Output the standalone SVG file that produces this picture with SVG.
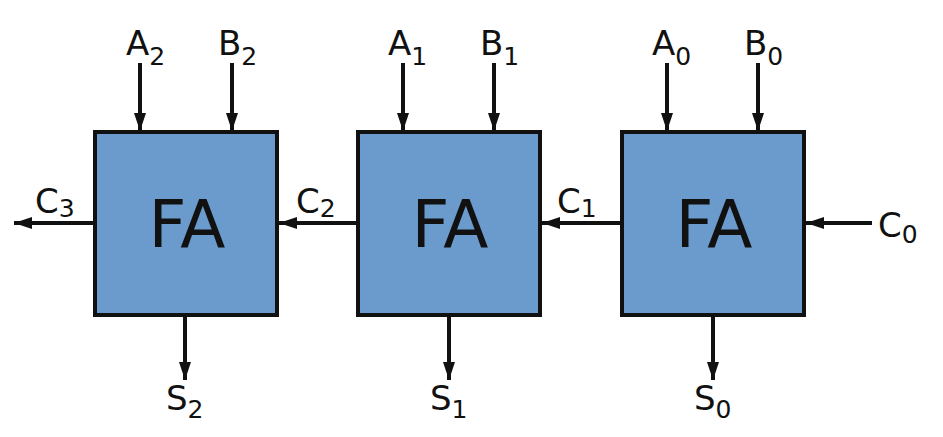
<svg xmlns="http://www.w3.org/2000/svg" width="943" height="437" viewBox="0 0 943 437">
<defs>
<style>
.box{fill:#6b9bcc;stroke:#111;stroke-width:4}
.fa{font-family:"DejaVu Sans",sans-serif;font-size:66px;fill:#111;text-anchor:middle}
.lbl{font-family:"DejaVu Sans",sans-serif;font-size:34px;fill:#111}
.sub{font-size:25px}
.wire{stroke:#111;stroke-width:4;fill:none;marker-end:url(#ah)}
</style>
<marker id="ah" markerUnits="userSpaceOnUse" markerWidth="20" markerHeight="14" refX="18" refY="7" orient="auto">
<path d="M0,1 L18,7 L0,13 Z" fill="#111"/>
</marker>
</defs>
<rect width="943" height="437" fill="#fff"/>
<g id="connectors">
<line class="wire" x1="140" y1="63" x2="140" y2="131"/>
<line class="wire" x1="232" y1="63" x2="232" y2="131"/>
<line class="wire" x1="403" y1="63" x2="403" y2="131"/>
<line class="wire" x1="494" y1="63" x2="494" y2="131"/>
<line class="wire" x1="667" y1="63" x2="667" y2="131"/>
<line class="wire" x1="758" y1="63" x2="758" y2="131"/>
<line class="wire" x1="872" y1="223" x2="806" y2="223"/>
<line class="wire" x1="620" y1="223" x2="542" y2="223"/>
<line class="wire" x1="357" y1="223" x2="279" y2="223"/>
<line class="wire" x1="94" y1="223" x2="14" y2="223"/>
<line class="wire" x1="185" y1="316" x2="185" y2="380"/>
<line class="wire" x1="449" y1="316" x2="449" y2="380"/>
<line class="wire" x1="713" y1="316" x2="713" y2="380"/>
</g>
<g id="fa2">
<rect class="box" x="95" y="132" width="182" height="183"/>
<text class="fa" x="187" y="247">FA</text>
</g>
<g id="fa1">
<rect class="box" x="358" y="132" width="182" height="183"/>
<text class="fa" x="450" y="247">FA</text>
</g>
<g id="fa0">
<rect class="box" x="622" y="132" width="182" height="183"/>
<text class="fa" x="714" y="247">FA</text>
</g>
<g id="labels">
<text class="lbl" x="126" y="55">A<tspan class="sub" dy="10">2</tspan></text>
<text class="lbl" x="218" y="55">B<tspan class="sub" dy="10">2</tspan></text>
<text class="lbl" x="388" y="55">A<tspan class="sub" dy="10">1</tspan></text>
<text class="lbl" x="480" y="55">B<tspan class="sub" dy="10">1</tspan></text>
<text class="lbl" x="652" y="55">A<tspan class="sub" dy="10">0</tspan></text>
<text class="lbl" x="744" y="55">B<tspan class="sub" dy="10">0</tspan></text>
<text class="lbl" x="35" y="213">C<tspan class="sub" dy="4">3</tspan></text>
<text class="lbl" x="296" y="213">C<tspan class="sub" dy="4">2</tspan></text>
<text class="lbl" x="557" y="213">C<tspan class="sub" dy="4">1</tspan></text>
<text class="lbl" x="878" y="237">C<tspan class="sub" dy="6">0</tspan></text>
<text class="lbl" x="166" y="410">S<tspan class="sub" dy="8">2</tspan></text>
<text class="lbl" x="430" y="410">S<tspan class="sub" dy="8">1</tspan></text>
<text class="lbl" x="694" y="410">S<tspan class="sub" dy="8">0</tspan></text>
</g>
</svg>
